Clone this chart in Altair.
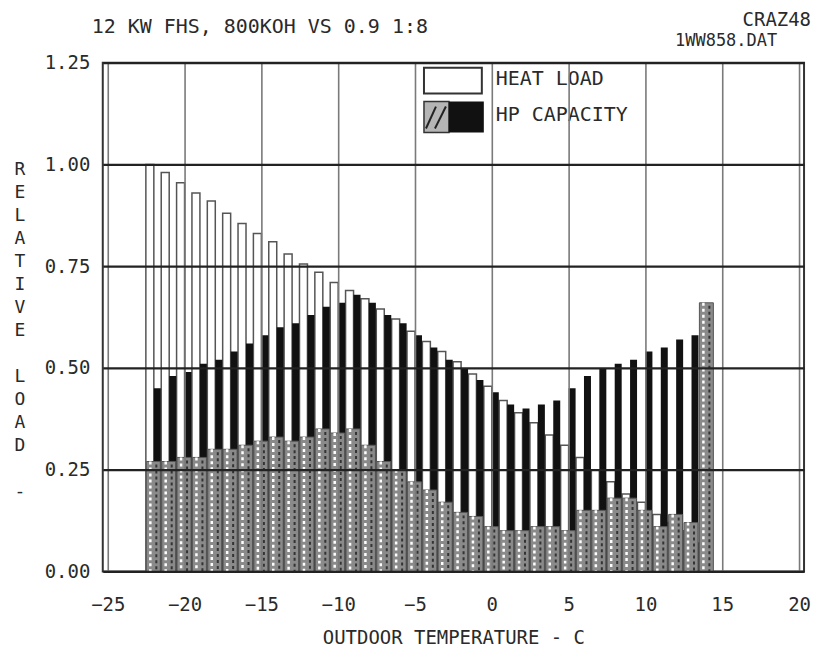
import altair as alt
import pandas as pd

# ---- data ----
temps = list(range(-22, 15))
heat_load = [1.00, 0.98, 0.955, 0.93, 0.91, 0.88, 0.855, 0.83, 0.81, 0.78, 0.755, 0.735,
             0.71, 0.69, 0.67, 0.645, 0.62, 0.59, 0.565, 0.54, 0.515, 0.485, 0.455, 0.42,
             0.39, 0.365, 0.335, 0.31, 0.28, 0.25, 0.22, 0.19, 0.17, 0.14, 0.12, 0.10, 0.07]
hp_capacity = [0.45, 0.48, 0.49, 0.51, 0.52, 0.54, 0.56, 0.58, 0.60, 0.61, 0.63, 0.65,
               0.66, 0.68, 0.66, 0.63, 0.61, 0.58, 0.55, 0.52, 0.50, 0.47, 0.44, 0.41,
               0.40, 0.41, 0.42, 0.45, 0.48, 0.50, 0.51, 0.52, 0.54, 0.55, 0.57, 0.58, None]
hatched = [0.27, 0.27, 0.28, 0.28, 0.30, 0.30, 0.31, 0.32, 0.33, 0.32, 0.33, 0.35,
           0.34, 0.35, 0.31, 0.27, 0.25, 0.22, 0.20, 0.17, 0.145, 0.135, 0.11, 0.10,
           0.10, 0.11, 0.11, 0.10, 0.15, 0.15, 0.18, 0.18, 0.15, 0.11, 0.14, 0.12, 0.66]
x_ticks = [-25, -20, -15, -10, -5, 0, 5, 10, 15, 20]
y_ticks = [0.0, 0.25, 0.5, 0.75, 1.0, 1.25]

title_text = "12 KW FHS, 800KOH VS 0.9 1:8"
corner_text_1 = "CRAZ48"
corner_text_2 = "1WW858.DAT"
y_title_words = ["RELATIVE", "LOAD", "-"]
legend_labels = ["HEAT LOAD", "HP CAPACITY"]

df = pd.DataFrame({"T": temps, "heat": heat_load, "hp": hp_capacity, "hatch": hatched})

FONT = "DejaVu Sans Mono"
INK = "#2a2a2a"

xs = alt.Scale(domain=[-25, 20], nice=False, zero=False)
ys = alt.Scale(domain=[0, 1.25], nice=False)

xaxis = alt.Axis(values=x_ticks, title="OUTDOOR TEMPERATURE - C", labelFont=FONT,
                 labelFontSize=19, labelColor=INK, labelPadding=24, tickSize=0,
                 domain=False, grid=True, gridColor="#7a7a7a", gridWidth=1.6, zindex=1,
                 titleFont=FONT, titleFontSize=19, titleFontWeight="normal",
                 titleColor=INK, titlePadding=14)
yaxis = alt.Axis(values=y_ticks, format=".2f", title=None, labelFont=FONT,
                 labelFontSize=19, labelColor=INK, labelPadding=13, tickSize=0,
                 domain=False, grid=True, gridColor="#222222", gridWidth=2.2, zindex=1)

base = alt.Chart(df)

heat_bars = base.mark_bar(width=8, xOffset=-4, fill="white", stroke="#555555",
                          strokeWidth=1.5).encode(
    x=alt.X("T:Q", scale=xs, axis=xaxis),
    y=alt.Y("heat:Q", scale=ys, axis=yaxis),
)
hp_bars = base.mark_bar(width=7, xOffset=3.5, color="#111111").encode(
    x=alt.X("T:Q", scale=xs), y=alt.Y("hp:Q", scale=ys))
hatch_bars = base.mark_bar(width=14, xOffset=-0.5, fill="#8a8a8a", stroke="#555555",
                           strokeWidth=1).encode(
    x=alt.X("T:Q", scale=xs), y=alt.Y("hatch:Q", scale=ys))
hatch_r1 = base.mark_rule(strokeDash=[3, 3], color="white", strokeWidth=2.5,
                          xOffset=-3.5).encode(
    x=alt.X("T:Q", scale=xs), y=alt.Y("hatch:Q", scale=ys), y2=alt.datum(0))
hatch_r2 = base.mark_rule(strokeDash=[3, 3], strokeDashOffset=3, color="#333333",
                          strokeWidth=2, xOffset=2.5).encode(
    x=alt.X("T:Q", scale=xs), y=alt.Y("hatch:Q", scale=ys), y2=alt.datum(0))

one = alt.Chart(pd.DataFrame({"k": [0]}))

# legend (plot-relative pixel positions)
leg_white = one.mark_rect(fill="white", stroke="#333333", strokeWidth=2).encode(
    x=alt.value(322), x2=alt.value(380), y=alt.value(5), y2=alt.value(31))
leg_hatch = one.mark_rect(fill="#b5b5b5", stroke="#333333", strokeWidth=1.5).encode(
    x=alt.value(322), x2=alt.value(347), y=alt.value(39), y2=alt.value(70))
leg_d1 = one.mark_rule(color="#222222", strokeWidth=2).encode(
    x=alt.value(324), x2=alt.value(334), y=alt.value(66), y2=alt.value(44))
leg_d2 = one.mark_rule(color="#222222", strokeWidth=2).encode(
    x=alt.value(333), x2=alt.value(344), y=alt.value(66), y2=alt.value(44))
leg_black = one.mark_rect(fill="#111111").encode(
    x=alt.value(347), x2=alt.value(382), y=alt.value(39), y2=alt.value(70))
leg_t1 = one.mark_text(font=FONT, fontSize=20, color=INK, align="left",
                       baseline="middle").encode(
    x=alt.value(394), y=alt.value(16), text=alt.value(legend_labels[0]))
leg_t2 = one.mark_text(font=FONT, fontSize=20, color=INK, align="left",
                       baseline="middle").encode(
    x=alt.value(394), y=alt.value(52), text=alt.value(legend_labels[1]))

# header texts
t_title = one.mark_text(font=FONT, fontSize=20, color=INK, align="left",
                        baseline="middle").encode(
    x=alt.value(-11), y=alt.value(-36), text=alt.value(title_text))
t_c1 = one.mark_text(font=FONT, fontSize=19, color=INK, align="right",
                     baseline="middle").encode(
    x=alt.value(710), y=alt.value(-43), text=alt.value(corner_text_1))
t_c2 = one.mark_text(font=FONT, fontSize=17, color=INK, align="right",
                     baseline="middle").encode(
    x=alt.value(676), y=alt.value(-22), text=alt.value(corner_text_2))

# vertical (stacked-letter) y title: words start on lines 0, 9 and 14
LINE_H = 23
y_title_layers = []
for word, line in zip(y_title_words, [0, 9, 14]):
    y_title_layers.append(
        one.mark_text(font=FONT, fontSize=18, color=INK, align="center",
                      baseline="top", lineBreak="\n", lineHeight=LINE_H).encode(
            x=alt.value(-83), y=alt.value(99 + line * LINE_H),
            text=alt.value("\n".join(word)))
    )

chart = alt.layer(
    heat_bars, hp_bars, hatch_bars, hatch_r1, hatch_r2,
    leg_white, leg_hatch, leg_d1, leg_d2, leg_black, leg_t1, leg_t2,
    t_title, t_c1, t_c2, *y_title_layers,
).properties(
    width=703, height=510,
    autosize=alt.AutoSizeParams(type="none"),
    padding={"left": 95, "top": 54, "right": 15, "bottom": 76},
    background="white",
).configure_view(stroke="#333333", strokeWidth=2)

chart.save("out.html", embed_options={"renderer": "svg", "actions": False})
